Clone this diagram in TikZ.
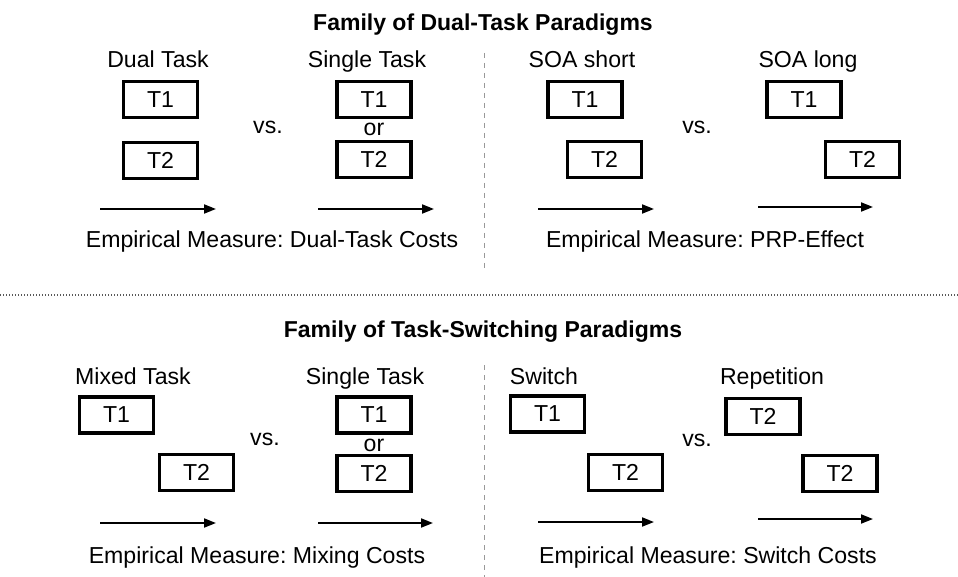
\documentclass[tikz,border=0pt]{standalone}
\usepackage{fontspec}
\setmainfont{Liberation Sans}
\usetikzlibrary{arrows.meta}
\begin{document}
\begin{tikzpicture}[x=1pt,y=-1pt,
  every node/.style={font=\fontsize{23.1}{27}\selectfont\frenchspacing, inner sep=0pt},
  tbox/.style={draw, line width=3.4pt, minimum width=74pt, minimum height=36pt},
  lbl/.style={anchor=base},
  title/.style={anchor=base, font=\fontsize{23}{27}\selectfont\bfseries\frenchspacing},
  timeline/.style={line width=1.8pt, -{Triangle[length=12pt,width=9pt]}},
  split/.style={draw=black!40, line width=1pt, dash pattern=on 5pt off 5pt},
  sep/.style={draw=black!65, line width=1.6pt, dash pattern=on 1.3pt off 1.7pt}]
\useasboundingbox (0,0) rectangle (958,577);
\fill[white] (0,0) rectangle (958,577);

% ---------- dual-task family ----------
\node[title] (ttop) at (483,31) {Family of Dual-Task Paradigms};
\coordinate (vtopA) at (484,53);
\coordinate (vtopB) at (484,268);
\draw[split] (vtopA) -- (vtopB);

\node[lbl] (dualL) at (158,68) {Dual Task};
\node[tbox] (d1) at (160.5,99.5) {T1};
\node[tbox] (d2) at (160.5,160.5) {T2};
\node (vs1) at (268,127) {vs.};
\node[lbl] (singL) at (367,68) {Single Task};
\node[tbox] (s1) at (374,99.5) {T1};
\node (or1) at (374,129) {or};
\node[tbox] (s2) at (374,159.5) {T2};
\coordinate (a1s) at (100,209); \coordinate (a1e) at (216,209);
\coordinate (a2s) at (318,209); \coordinate (a2e) at (434,209);
\draw[timeline] (a1s) -- (a1e);
\draw[timeline] (a2s) -- (a2e);
\node[lbl] (emp1) at (272,248) {Empirical Measure: Dual-Task Costs};

\node[lbl] (soaS) at (582,68) {SOA short};
\node[tbox] (ss1) at (585,99.5) {T1};
\node[tbox] (ss2) at (604.5,159.5) {T2};
\node (vs2) at (697,127) {vs.};
\node[lbl] (soaL) at (808,68) {SOA long};
\node[tbox] (sl1) at (804,99.5) {T1};
\node[tbox] (sl2) at (862.5,159.5) {T2};
\coordinate (a3s) at (538,209); \coordinate (a3e) at (654,209);
\coordinate (a4s) at (758,207); \coordinate (a4e) at (873,207);
\draw[timeline] (a3s) -- (a3e);
\draw[timeline] (a4s) -- (a4e);
\node[lbl] (emp2) at (705,248) {Empirical Measure: PRP-Effect};

% ---------- separator ----------
\coordinate (hsA) at (0,295);
\coordinate (hsB) at (958,295);
\draw[sep] (hsA) -- (hsB);

% ---------- task-switching family ----------
\node[title] (tbot) at (483,337) {Family of Task-Switching Paradigms};
\coordinate (vbotA) at (484,365);
\coordinate (vbotB) at (484,577);
\draw[split] (vbotA) -- (vbotB);

\node[lbl] (mixL) at (133,384) {Mixed Task};
\node[tbox] (m1) at (116.5,415) {T1};
\node[tbox] (m2) at (196.5,472.5) {T2};
\node (vs3) at (265,439) {vs.};
\node[lbl] (sing2L) at (365,384) {Single Task};
\node[tbox] (b1) at (374,415) {T1};
\node (or2) at (374,445) {or};
\node[tbox] (b2) at (374,473.5) {T2};
\coordinate (a5s) at (100,523); \coordinate (a5e) at (216,523);
\coordinate (a6s) at (318,523); \coordinate (a6e) at (433,523);
\draw[timeline] (a5s) -- (a5e);
\draw[timeline] (a6s) -- (a6e);
\node[lbl] (emp3) at (257,563) {Empirical Measure: Mixing Costs};

\node[lbl] (swL) at (544,384) {Switch};
\node[tbox] (w1) at (547.5,414) {T1};
\node[tbox] (w2) at (625.5,472.5) {T2};
\node (vs4) at (697,440) {vs.};
\node[lbl] (repL) at (772,384) {Repetition};
\node[tbox] (r1) at (763,416.5) {T2};
\node[tbox] (r2) at (840,473.5) {T2};
\coordinate (a7s) at (538,522); \coordinate (a7e) at (654,522);
\coordinate (a8s) at (758,519); \coordinate (a8e) at (873,519);
\draw[timeline] (a7s) -- (a7e);
\draw[timeline] (a8s) -- (a8e);
\node[lbl] (emp4) at (708,563) {Empirical Measure: Switch Costs};
\end{tikzpicture}
\end{document}
